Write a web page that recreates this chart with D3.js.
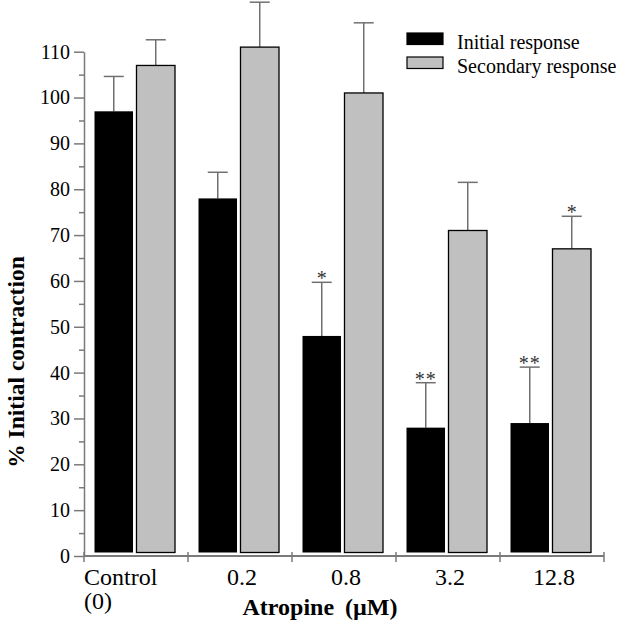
<!DOCTYPE html>
<html>
<head>
<meta charset="utf-8">
<script src="https://cdn.jsdelivr.net/npm/d3@7"></script>
<style>
  html, body { margin: 0; padding: 0; background: #fff; }
  svg { display: block; }
</style>
</head>
<body>
<svg id="chart" width="622" height="632"></svg>
<script>
// ---- data ----
const categories = ["Control", "0.2", "0.8", "3.2", "12.8"];
const categorySubLabels = ["(0)", "", "", "", ""];
const seriesNames = ["Initial response", "Secondary response"];
const initialValues = [97, 78, 48, 28, 29];
const initialErrors = [7.6, 5.7, 11.7, 9.8, 12.2];
const secondaryValues = [107, 111, 101, 71, 67];
const secondaryErrors = [5.6, 9.8, 15.3, 10.5, 7.1];
const initialSig = ["", "", "*", "**", "**"];
const secondarySig = ["", "", "", "", "*"];
const yTickValues = [0, 10, 20, 30, 40, 50, 60, 70, 80, 90, 100, 110];
const yMinorTickValues = [5, 15, 25, 35, 45, 55, 65, 75, 85, 95, 105];
const yTitle = "% Initial contraction";
const xTitle = "Atropine (\u00B5M)";

// ---- layout ----
const FONT = "'Liberation Serif', 'Times New Roman', serif";
const svg = d3.select("#chart");
const axisColor = "#7a7a7a";
const errColor = "#707070";

const x = d3.scaleBand().domain(categories).range([84, 604]).paddingInner(0).paddingOuter(0);
const sub = d3.scaleBand().domain(seriesNames).range([10.5, 91]).paddingInner(0.083).paddingOuter(0);
const y = d3.scaleLinear().domain([0, 110]).range([556, 51.7]);

const series = [
  { name: seriesNames[0], values: initialValues, errors: initialErrors, sig: initialSig, fill: "#000000", stroke: "#000000" },
  { name: seriesNames[1], values: secondaryValues, errors: secondaryErrors, sig: secondarySig, fill: "#c0c0c0", stroke: "#000000" }
];

// ---- error bars (drawn first so bars cover the stem) ----
series.forEach(s => {
  const g = svg.append("g");
  categories.forEach((c, i) => {
    const cx = x(c) + sub(s.name) + sub.bandwidth() / 2;
    const top = y(s.values[i] + s.errors[i]);
    g.append("line")
      .attr("x1", cx).attr("x2", cx)
      .attr("y1", y(s.values[i])).attr("y2", top)
      .attr("stroke", errColor).attr("stroke-width", 1.5);
    g.append("line")
      .attr("x1", cx - 10).attr("x2", cx + 10)
      .attr("y1", top).attr("y2", top)
      .attr("stroke", errColor).attr("stroke-width", 1.5);
    if (s.sig[i]) {
      g.append("text")
        .attr("x", cx).attr("y", top + 3)
        .attr("text-anchor", "middle")
        .attr("font-size", 20)
        .attr("letter-spacing", s.sig[i].length > 1 ? 1 : 0)
        .attr("fill", "#333")
        .text(s.sig[i]);
    }
  });
});

// ---- bars ----
series.forEach(s => {
  svg.append("g").selectAll("rect")
    .data(categories)
    .join("rect")
    .attr("x", c => x(c) + sub(s.name))
    .attr("width", sub.bandwidth())
    .attr("y", (c, i) => y(s.values[i]))
    .attr("height", (c, i) => y(0) - 3.5 - y(s.values[i]))
    .attr("fill", s.fill)
    .attr("stroke", s.stroke)
    .attr("stroke-width", s.fill === "#000000" ? 0 : 1.3);
});

// ---- y axis ----
const yAxis = svg.append("g").attr("transform", "translate(84,0)")
  .call(d3.axisLeft(y).tickValues(yTickValues).tickSize(10).tickSizeOuter(0).tickPadding(4));
yAxis.select(".domain").attr("stroke", axisColor).attr("stroke-width", 1.5);
yAxis.selectAll(".tick line").attr("stroke", axisColor).attr("stroke-width", 1.5);
yAxis.selectAll(".tick text").attr("font-size", 20).attr("fill", "#000");

const yMinor = svg.append("g").attr("transform", "translate(84,0)")
  .call(d3.axisLeft(y).tickValues(yMinorTickValues).tickSize(5).tickSizeOuter(0).tickFormat(""));
yMinor.select(".domain").remove();
yMinor.selectAll(".tick line").attr("stroke", axisColor).attr("stroke-width", 1.5);

// ---- x axis ----
const boundaries = categories.map(c => x(c)).concat([x(categories[categories.length - 1]) + x.bandwidth()]);
const xAxisG = svg.append("g");
xAxisG.append("line")
  .attr("x1", x.range()[0]).attr("x2", x.range()[1])
  .attr("y1", y(0)).attr("y2", y(0))
  .attr("stroke", axisColor).attr("stroke-width", 2);
xAxisG.selectAll("line.tk")
  .data(boundaries)
  .join("line")
  .attr("class", "tk")
  .attr("x1", d => d).attr("x2", d => d)
  .attr("y1", y(0) - 4).attr("y2", y(0) + 6)
  .attr("stroke", axisColor).attr("stroke-width", 1.5);

categories.forEach((c, i) => {
  const isFirst = i === 0;
  xAxisG.append("text")
    .attr("x", isFirst ? x(c) : x(c) + x.bandwidth() / 2 + 2)
    .attr("y", 585)
    .attr("text-anchor", isFirst ? "start" : "middle")
    .attr("font-size", 24)
    .text(c);
  if (categorySubLabels[i]) {
    xAxisG.append("text")
      .attr("x", x(c))
      .attr("y", 609)
      .attr("text-anchor", "start")
      .attr("font-size", 24)
      .text(categorySubLabels[i]);
  }
});

// ---- titles ----
svg.append("text")
  .attr("x", 320).attr("y", 615)
  .attr("text-anchor", "middle")
  .attr("font-size", 24).attr("font-weight", "bold")
  .attr("word-spacing", 5)
  .text(xTitle);

svg.append("text")
  .attr("transform", "translate(24,362) rotate(-90)")
  .attr("text-anchor", "middle")
  .attr("font-size", 23.5).attr("font-weight", "bold")
  .text(yTitle);

// ---- legend ----
const legend = svg.append("g");
series.forEach((s, i) => {
  legend.append("rect")
    .attr("x", 407).attr("y", 33 + i * 24)
    .attr("width", 36).attr("height", 11.5)
    .attr("fill", s.fill).attr("stroke", "#000").attr("stroke-width", 1.2);
  legend.append("text")
    .attr("x", 457).attr("y", 48.5 + i * 24)
    .attr("font-size", 20)
    .text(s.name);
});

// fonts on every text
svg.selectAll("text").style("font-family", FONT);
</script>
</body>
</html>
